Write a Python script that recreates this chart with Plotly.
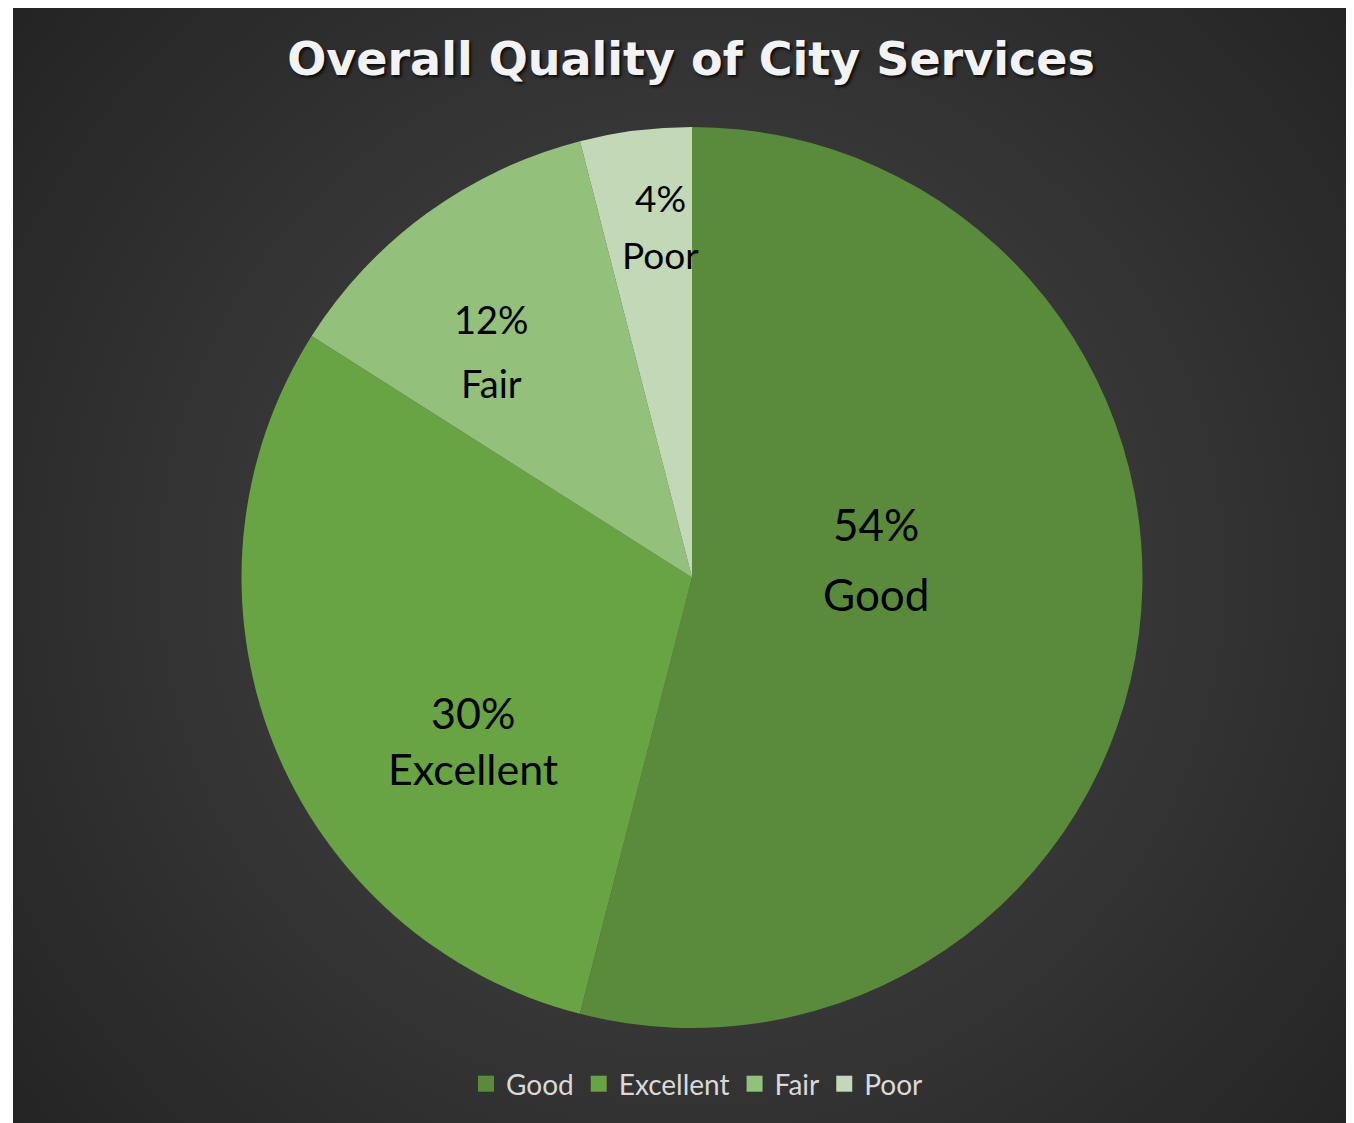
import base64
import math
import plotly.graph_objects as go

# ---- data ----
categories = ["Good", "Excellent", "Fair", "Poor"]
shares = [54, 30, 12, 4]
title_text = "Overall Quality of City Services"

# ---- styling ----
slice_colors = ["#598b3a", "#68a444", "#93c17b", "#c2d8b6"]
label_sizes = [44, 43, 38, 37]
label_radius = [0.41, 0.605, 0.671, 0.782]      # fraction of pie radius
label_nudge_deg = [-12.8, -15.1, -5.4, 2.0]     # offset from slice bisector
label_gap = [70, 56, 64, 57]                    # px between the two label lines

W, H = 1346, 1115
dom_x = [233 / W, 1135 / W]
dom_y = [95 / H, 996 / H]

# ---- background (dark radial gradient panel) ----
bg_x0, bg_y0 = 5, 0
bg_w, bg_h = W - bg_x0, H - bg_y0
svg = (
    f'<svg xmlns="http://www.w3.org/2000/svg" width="{bg_w}" height="{bg_h}">'
    '<defs><radialGradient id="g" cx="679" cy="566" r="900" gradientUnits="userSpaceOnUse">'
    '<stop offset="0" stop-color="#4a4a4a"/>'
    '<stop offset="0.5" stop-color="#363636"/>'
    '<stop offset="1" stop-color="#232323"/>'
    '</radialGradient></defs>'
    f'<rect width="{bg_w}" height="{bg_h}" fill="url(#g)"/></svg>'
)
svg_uri = "data:image/svg+xml;base64," + base64.b64encode(svg.encode()).decode()

fig = go.Figure()
fig.add_trace(
    go.Pie(
        labels=categories,
        values=shares,
        sort=False,
        direction="clockwise",
        rotation=0,
        marker=dict(colors=slice_colors, line=dict(width=0)),
        textinfo="none",
        domain=dict(x=dom_x, y=dom_y),
        hoverinfo="label+percent",
        showlegend=False,
    )
)

# legend entries (square swatches)
for cat, col in zip(categories, slice_colors):
    fig.add_trace(
        go.Scatter(
            x=[None], y=[None], mode="markers", name=cat,
            marker=dict(symbol="square", size=16, color=col),
        )
    )

# ---- slice labels placed from the slice angles ----
cx = (dom_x[0] + dom_x[1]) / 2 * W
cy = (1 - (dom_y[0] + dom_y[1]) / 2) * H
R = (dom_x[1] - dom_x[0]) * W / 2
total = sum(shares)
annotations = []
cum = 0
for i, (cat, v) in enumerate(zip(categories, shares)):
    mid = (cum + v / 2) / total * 360 + label_nudge_deg[i]
    cum += v
    rr = label_radius[i] * R
    px = cx + rr * math.sin(math.radians(mid))
    py = cy - rr * math.cos(math.radians(mid))
    pct = f"{round(v / total * 100)}%"
    for txt, sh in ((pct, label_gap[i] / 2), (cat, -label_gap[i] / 2)):
        annotations.append(
            dict(
                text=txt, x=px / W, y=1 - py / H, xref="paper", yref="paper",
                xanchor="center", yanchor="middle", yshift=sh, showarrow=False,
                font=dict(family="Lato", size=label_sizes[i], color="#000000"),
            )
        )

fig.update_layout(
    width=W,
    height=H,
    margin=dict(l=0, r=0, t=0, b=0),
    paper_bgcolor="#ffffff",
    plot_bgcolor="rgba(0,0,0,0)",
    xaxis=dict(visible=False),
    yaxis=dict(visible=False),
    title=dict(
        text=title_text,
        x=683 / W,
        xanchor="center",
        y=1 - 51 / H,
        yanchor="middle",
        font=dict(family="DejaVu Sans", size=46, color="#f2f2f2", weight="bold",
                  shadow="2px 2px 3px rgba(0,0,0,0.8)"),
    ),
    legend=dict(
        orientation="h",
        x=689 / W,
        xanchor="center",
        y=1 - 1076 / H,
        yanchor="middle",
        font=dict(family="Lato", size=28, color="#d9d9d9"),
        bgcolor="rgba(0,0,0,0)",
        itemsizing="trace",
        tracegroupgap=0,
    ),
    annotations=annotations,
    images=[
        dict(
            source=svg_uri,
            xref="paper",
            yref="paper",
            x=bg_x0 / W,
            y=1 - bg_y0 / H,
            sizex=bg_w / W,
            sizey=bg_h / H,
            xanchor="left",
            yanchor="top",
            sizing="stretch",
            layer="below",
        )
    ],
)

fig.write_html("out.html")
